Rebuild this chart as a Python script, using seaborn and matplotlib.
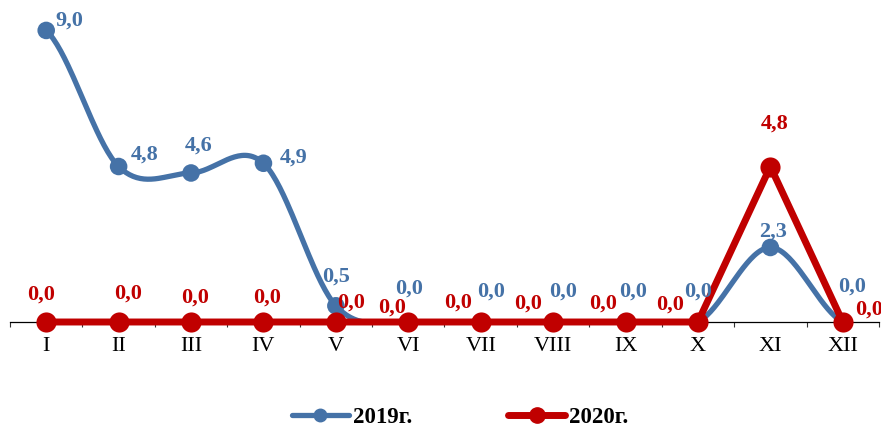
import numpy as np
import pandas as pd
import matplotlib
matplotlib.use("Agg")
import matplotlib.pyplot as plt
from matplotlib.lines import Line2D
from matplotlib.ticker import FixedLocator
import seaborn as sns

# данные
months = ["I", "II", "III", "IV", "V", "VI", "VII", "VIII", "IX", "X", "XI", "XII"]
y2019 = [9.0, 4.8, 4.6, 4.9, 0.5, 0.0, 0.0, 0.0, 0.0, 0.0, 2.3, 0.0]
y2020 = [0.0, 0.0, 0.0, 0.0, 0.0, 0.0, 0.0, 0.0, 0.0, 0.0, 4.8, 0.0]
series_names = ["2019г.", "2020г."]

# сдвиги подписей (в пикселях) - как в оригинале
off2019 = [(23, 10), (26, 12), (8, 27), (30, 6), (0, 29), (1, 33),
           (10, 30), (10, 30), (8, 30), (0, 30), (3, 16), (9, 35)]
off2020 = [(-5, 27), (9, 28), (4, 24), (4, 24), (15, 19), (-16, 14),
           (-23, 19), (-25, 18), (-22, 18), (-28, 17), (4, 43), (26, 12)]

blue = "#4572A7"
red = "#C00000"

sns.set_style("white")
plt.rcParams["font.family"] = ["Liberation Serif", "DejaVu Serif"]


def smooth(y, n=40):
    # сглаживание как в Excel (Catmull-Rom)
    y = np.asarray(y, dtype=float)
    xs, ys = [], []
    for i in range(len(y) - 1):
        p0 = y[i - 1] if i > 0 else y[i]
        p1, p2 = y[i], y[i + 1]
        p3 = y[i + 2] if i + 2 < len(y) else y[i + 1]
        m1 = (p2 - p0) / 2
        m2 = (p3 - p1) / 2
        t = np.linspace(0, 1, n, endpoint=(i == len(y) - 2))
        h00 = 2 * t**3 - 3 * t**2 + 1
        h10 = t**3 - 2 * t**2 + t
        h01 = -2 * t**3 + 3 * t**2
        h11 = t**3 - t**2
        xs.append(i + t)
        ys.append(h00 * p1 + h10 * m1 + h01 * p2 + h11 * m2)
    return np.concatenate(xs), np.concatenate(ys)


x = np.arange(len(months))
df = pd.DataFrame({"x": x, "2019": y2019, "2020": y2020})
sx, sy = smooth(y2019)
df_smooth = pd.DataFrame({"x": sx, "y": sy})

fig = plt.figure(figsize=(8.81, 4.29), dpi=100)
ax = fig.add_axes([10 / 881, 107 / 429, 869 / 881, 311 / 429])

sns.lineplot(data=df_smooth, x="x", y="y", color=blue, linewidth=3.8,
             sort=False, estimator=None, ax=ax, zorder=2)
sns.scatterplot(data=df, x="x", y="2019", color=blue, s=160, edgecolor="none",
                ax=ax, zorder=3, clip_on=False)
sns.lineplot(data=df, x="x", y="2020", color=red, linewidth=5, marker="o",
             markersize=14.5, markeredgewidth=0, sort=False, estimator=None,
             ax=ax, zorder=4, clip_on=False)

for i in range(len(months)):
    ax.annotate(f"{y2019[i]:.1f}".replace(".", ","), (x[i], y2019[i]),
                xytext=off2019[i], textcoords="offset pixels", ha="center",
                va="center", color=blue, fontsize=16, fontweight="bold",
                zorder=5)
    ax.annotate(f"{y2020[i]:.1f}".replace(".", ","), (x[i], y2020[i]),
                xytext=off2020[i], textcoords="offset pixels", ha="center",
                va="center", color=red, fontsize=16, fontweight="bold",
                zorder=6)

ax.set_xlim(-0.5, 11.5)
ax.set_ylim(0, 9.6)
ax.set_xticks(x)
ax.set_xticklabels(months, fontsize=16, color="black")
ax.xaxis.set_minor_locator(FixedLocator(np.arange(-0.5, 12, 1)))
ax.tick_params(axis="x", which="major", length=0, pad=11)
ax.tick_params(axis="x", which="minor", length=3.5, width=0.8,
               direction="out", color="#333333", bottom=True)
ax.set_yticks([])
ax.set_xlabel("")
ax.set_ylabel("")
for s in ["left", "right", "top"]:
    ax.spines[s].set_visible(False)
ax.spines["bottom"].set_color("black")
ax.spines["bottom"].set_linewidth(0.9)

handles = [
    Line2D([], [], color=blue, linewidth=3.8, marker="o", markersize=9),
    Line2D([], [], color=red, linewidth=5, marker="o", markersize=11),
]
leg = fig.legend(handles, series_names, loc="center",
                 bbox_to_anchor=(0.522, 0.027), ncol=2, frameon=False,
                 handlelength=2.5, handletextpad=0.15, columnspacing=4.2,
                 prop={"size": 16.5, "weight": "bold"})
for t in leg.get_texts():
    t.set_color("black")

fig.savefig("out.png", dpi=100)
